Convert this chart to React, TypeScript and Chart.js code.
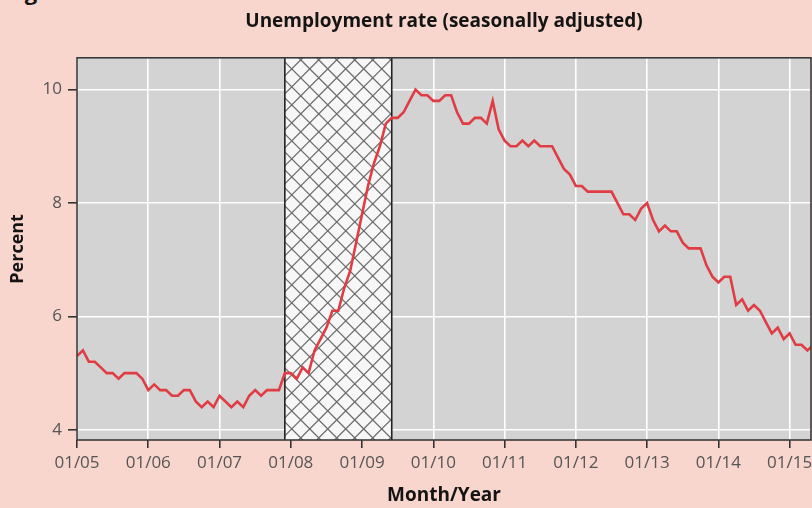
import React, { useEffect, useRef } from "react";
import { Chart, registerables } from "chart.js";

Chart.register(...registerables);

// Monthly unemployment rate (seasonally adjusted), Jan 2005 – May 2015
const rates2005 = [5.3, 5.4, 5.2, 5.2, 5.1, 5.0, 5.0, 4.9, 5.0, 5.0, 5.0, 4.9];
const rates2006 = [4.7, 4.8, 4.7, 4.7, 4.6, 4.6, 4.7, 4.7, 4.5, 4.4, 4.5, 4.4];
const rates2007 = [4.6, 4.5, 4.4, 4.5, 4.4, 4.6, 4.7, 4.6, 4.7, 4.7, 4.7, 5.0];
const rates2008 = [5.0, 4.9, 5.1, 5.0, 5.4, 5.6, 5.8, 6.1, 6.1, 6.5, 6.8, 7.3];
const rates2009 = [7.8, 8.3, 8.7, 9.0, 9.4, 9.5, 9.5, 9.6, 9.8, 10.0, 9.9, 9.9];
const rates2010 = [9.8, 9.8, 9.9, 9.9, 9.6, 9.4, 9.4, 9.5, 9.5, 9.4, 9.8, 9.3];
const rates2011 = [9.1, 9.0, 9.0, 9.1, 9.0, 9.1, 9.0, 9.0, 9.0, 8.8, 8.6, 8.5];
const rates2012 = [8.3, 8.3, 8.2, 8.2, 8.2, 8.2, 8.2, 8.0, 7.8, 7.8, 7.7, 7.9];
const rates2013 = [8.0, 7.7, 7.5, 7.6, 7.5, 7.5, 7.3, 7.2, 7.2, 7.2, 6.9, 6.7];
const rates2014 = [6.6, 6.7, 6.7, 6.2, 6.3, 6.1, 6.2, 6.1, 5.9, 5.7, 5.8, 5.6];
const rates2015 = [5.7, 5.5, 5.5, 5.4, 5.5];

const unemployment = [
  ...rates2005, ...rates2006, ...rates2007, ...rates2008, ...rates2009, ...rates2010,
  ...rates2011, ...rates2012, ...rates2013, ...rates2014, ...rates2015,
];

// x tick labels (January of each year), month index = 12 * k
const xTickLabels = ["01/05", "01/06", "01/07", "01/08", "01/09", "01/10", "01/11", "01/12", "01/13", "01/14", "01/15"];
const yTickValues = [4, 6, 8, 10];

// Recession: Dec 2007 (month index 35) to Jun 2009 (month index 53)
const recessionStartMonth = 35;
const recessionEndMonth = 53;

const xMin = 0;
const xMax = 123.6;
const yMin = 3.82;
const yMax = 10.56;

const TITLE = "Unemployment rate (seasonally adjusted)";
const Y_TITLE = "Percent";
const X_TITLE = "Month/Year";

const FONT = "'Open Sans', 'DejaVu Sans', sans-serif";

const decorPlugin = {
  id: "decor",
  beforeDraw(chart: any) {
    const { ctx, chartArea } = chart;
    const { left, top, width, height } = chartArea;
    ctx.save();
    ctx.fillStyle = "#d3d3d3";
    ctx.fillRect(left, top, width, height);
    ctx.restore();
  },
  beforeDatasetsDraw(chart: any) {
    const { ctx, chartArea, scales } = chart;
    const x0 = scales.x.getPixelForValue(recessionStartMonth);
    const x1 = scales.x.getPixelForValue(recessionEndMonth);
    const top = chartArea.top;
    const bottom = chartArea.bottom;
    const h = bottom - top;
    ctx.save();
    ctx.beginPath();
    ctx.rect(x0, top, x1 - x0, h);
    ctx.clip();
    ctx.fillStyle = "#f7f7f7";
    ctx.fillRect(x0, top, x1 - x0, h);
    ctx.strokeStyle = "#6e6e6e";
    ctx.lineWidth = 1.3;
    const step = 18;
    ctx.beginPath();
    for (let k = -h - step; k < x1 - x0 + h + step; k += step) {
      ctx.moveTo(x0 + k, top);
      ctx.lineTo(x0 + k + h, bottom);
      ctx.moveTo(x0 + k, bottom);
      ctx.lineTo(x0 + k + h, top);
    }
    ctx.stroke();
    ctx.restore();
    ctx.save();
    ctx.strokeStyle = "#222";
    ctx.lineWidth = 1.6;
    ctx.beginPath();
    ctx.moveTo(x0, top);
    ctx.lineTo(x0, bottom);
    ctx.moveTo(x1, top);
    ctx.lineTo(x1, bottom);
    ctx.stroke();
    ctx.restore();
  },
  afterDraw(chart: any) {
    const { ctx, chartArea } = chart;
    const { left, top, width, height } = chartArea;
    ctx.save();
    ctx.strokeStyle = "#3a3a3a";
    ctx.lineWidth = 1.6;
    ctx.strokeRect(left, top, width, height);
    ctx.restore();
  },
};

export default function App() {
  const canvasRef = useRef<HTMLCanvasElement | null>(null);

  useEffect(() => {
    const canvas = canvasRef.current;
    if (!canvas) return;
    const points = unemployment.map((v, i) => ({ x: i, y: v }));
    const chart = new Chart(canvas, {
      type: "line",
      data: {
        datasets: [
          {
            data: points,
            borderColor: "#e03c44",
            borderWidth: 2.6,
            pointRadius: 0,
            tension: 0,
            fill: false,
          },
        ],
      },
      options: {
        animation: false,
        responsive: true,
        maintainAspectRatio: false,
        layout: { padding: { left: 0, right: 1, top: 0, bottom: 0 } },
        plugins: {
          legend: { display: false },
          tooltip: { enabled: false },
          title: {
            display: true,
            text: TITLE,
            fullSize: false,
            color: "#141414",
            font: { family: FONT, size: 19, weight: "bold" },
            padding: { top: 10.5, bottom: 24.5 },
          },
        },
        scales: {
          x: {
            type: "linear",
            min: xMin,
            max: xMax,
            afterBuildTicks: (scale: any) => {
              scale.ticks = xTickLabels.map((_, k) => ({ value: k * 12 }));
            },
            afterFit: (scale: any) => {
              scale.height = 68;
              scale.paddingLeft = 0;
              scale.paddingRight = 0;
            },
            border: { display: false },
            grid: {
              color: "#ffffff",
              lineWidth: 1.6,
              tickColor: "#333333",
              tickLength: 8,
              tickWidth: 1.6,
            },
            ticks: {
              color: "#555555",
              font: { family: FONT, size: 17 },
              padding: 5,
              maxRotation: 0,
              autoSkip: false,
              callback: (v: any) => {
                const k = Math.round(Number(v) / 12);
                return xTickLabels[k] ?? "";
              },
            },
            title: {
              display: true,
              text: X_TITLE,
              color: "#141414",
              font: { family: FONT, size: 19, weight: "bold" },
              padding: { top: 2, bottom: 1 },
            },
          },
          y: {
            type: "linear",
            min: yMin,
            max: yMax,
            afterBuildTicks: (scale: any) => {
              scale.ticks = yTickValues.map((v) => ({ value: v }));
            },
            afterFit: (scale: any) => {
              scale.width = 77;
              scale.paddingTop = 0;
              scale.paddingBottom = 0;
            },
            border: { display: false },
            grid: {
              color: "#ffffff",
              lineWidth: 1.6,
              tickColor: "#333333",
              tickLength: 9,
              tickWidth: 1.6,
            },
            ticks: {
              color: "#555555",
              font: { family: FONT, size: 17 },
              padding: 6,
              callback: (v: any) => String(v),
            },
            title: {
              display: true,
              text: Y_TITLE,
              color: "#141414",
              font: { family: FONT, size: 18, weight: "bold" },
              padding: { top: 7, bottom: 2 },
            },
          },
        },
      },
      plugins: [decorPlugin],
    });
    return () => chart.destroy();
  }, []);

  return (
    <div
      style={{
        position: "absolute",
        left: 0,
        top: 0,
        width: 812,
        height: 508,
        background: "#f8d6cd",
        overflow: "hidden",
      }}
    >
      <div
        style={{
          position: "absolute",
          left: 6,
          top: -22,
          fontFamily: FONT,
          fontWeight: "bold",
          fontSize: 22,
          color: "#141414",
          lineHeight: "26px",
        }}
      >
        Figure
      </div>
      <canvas ref={canvasRef} style={{ position: "absolute", left: 0, top: 0 }} />
    </div>
  );
}
